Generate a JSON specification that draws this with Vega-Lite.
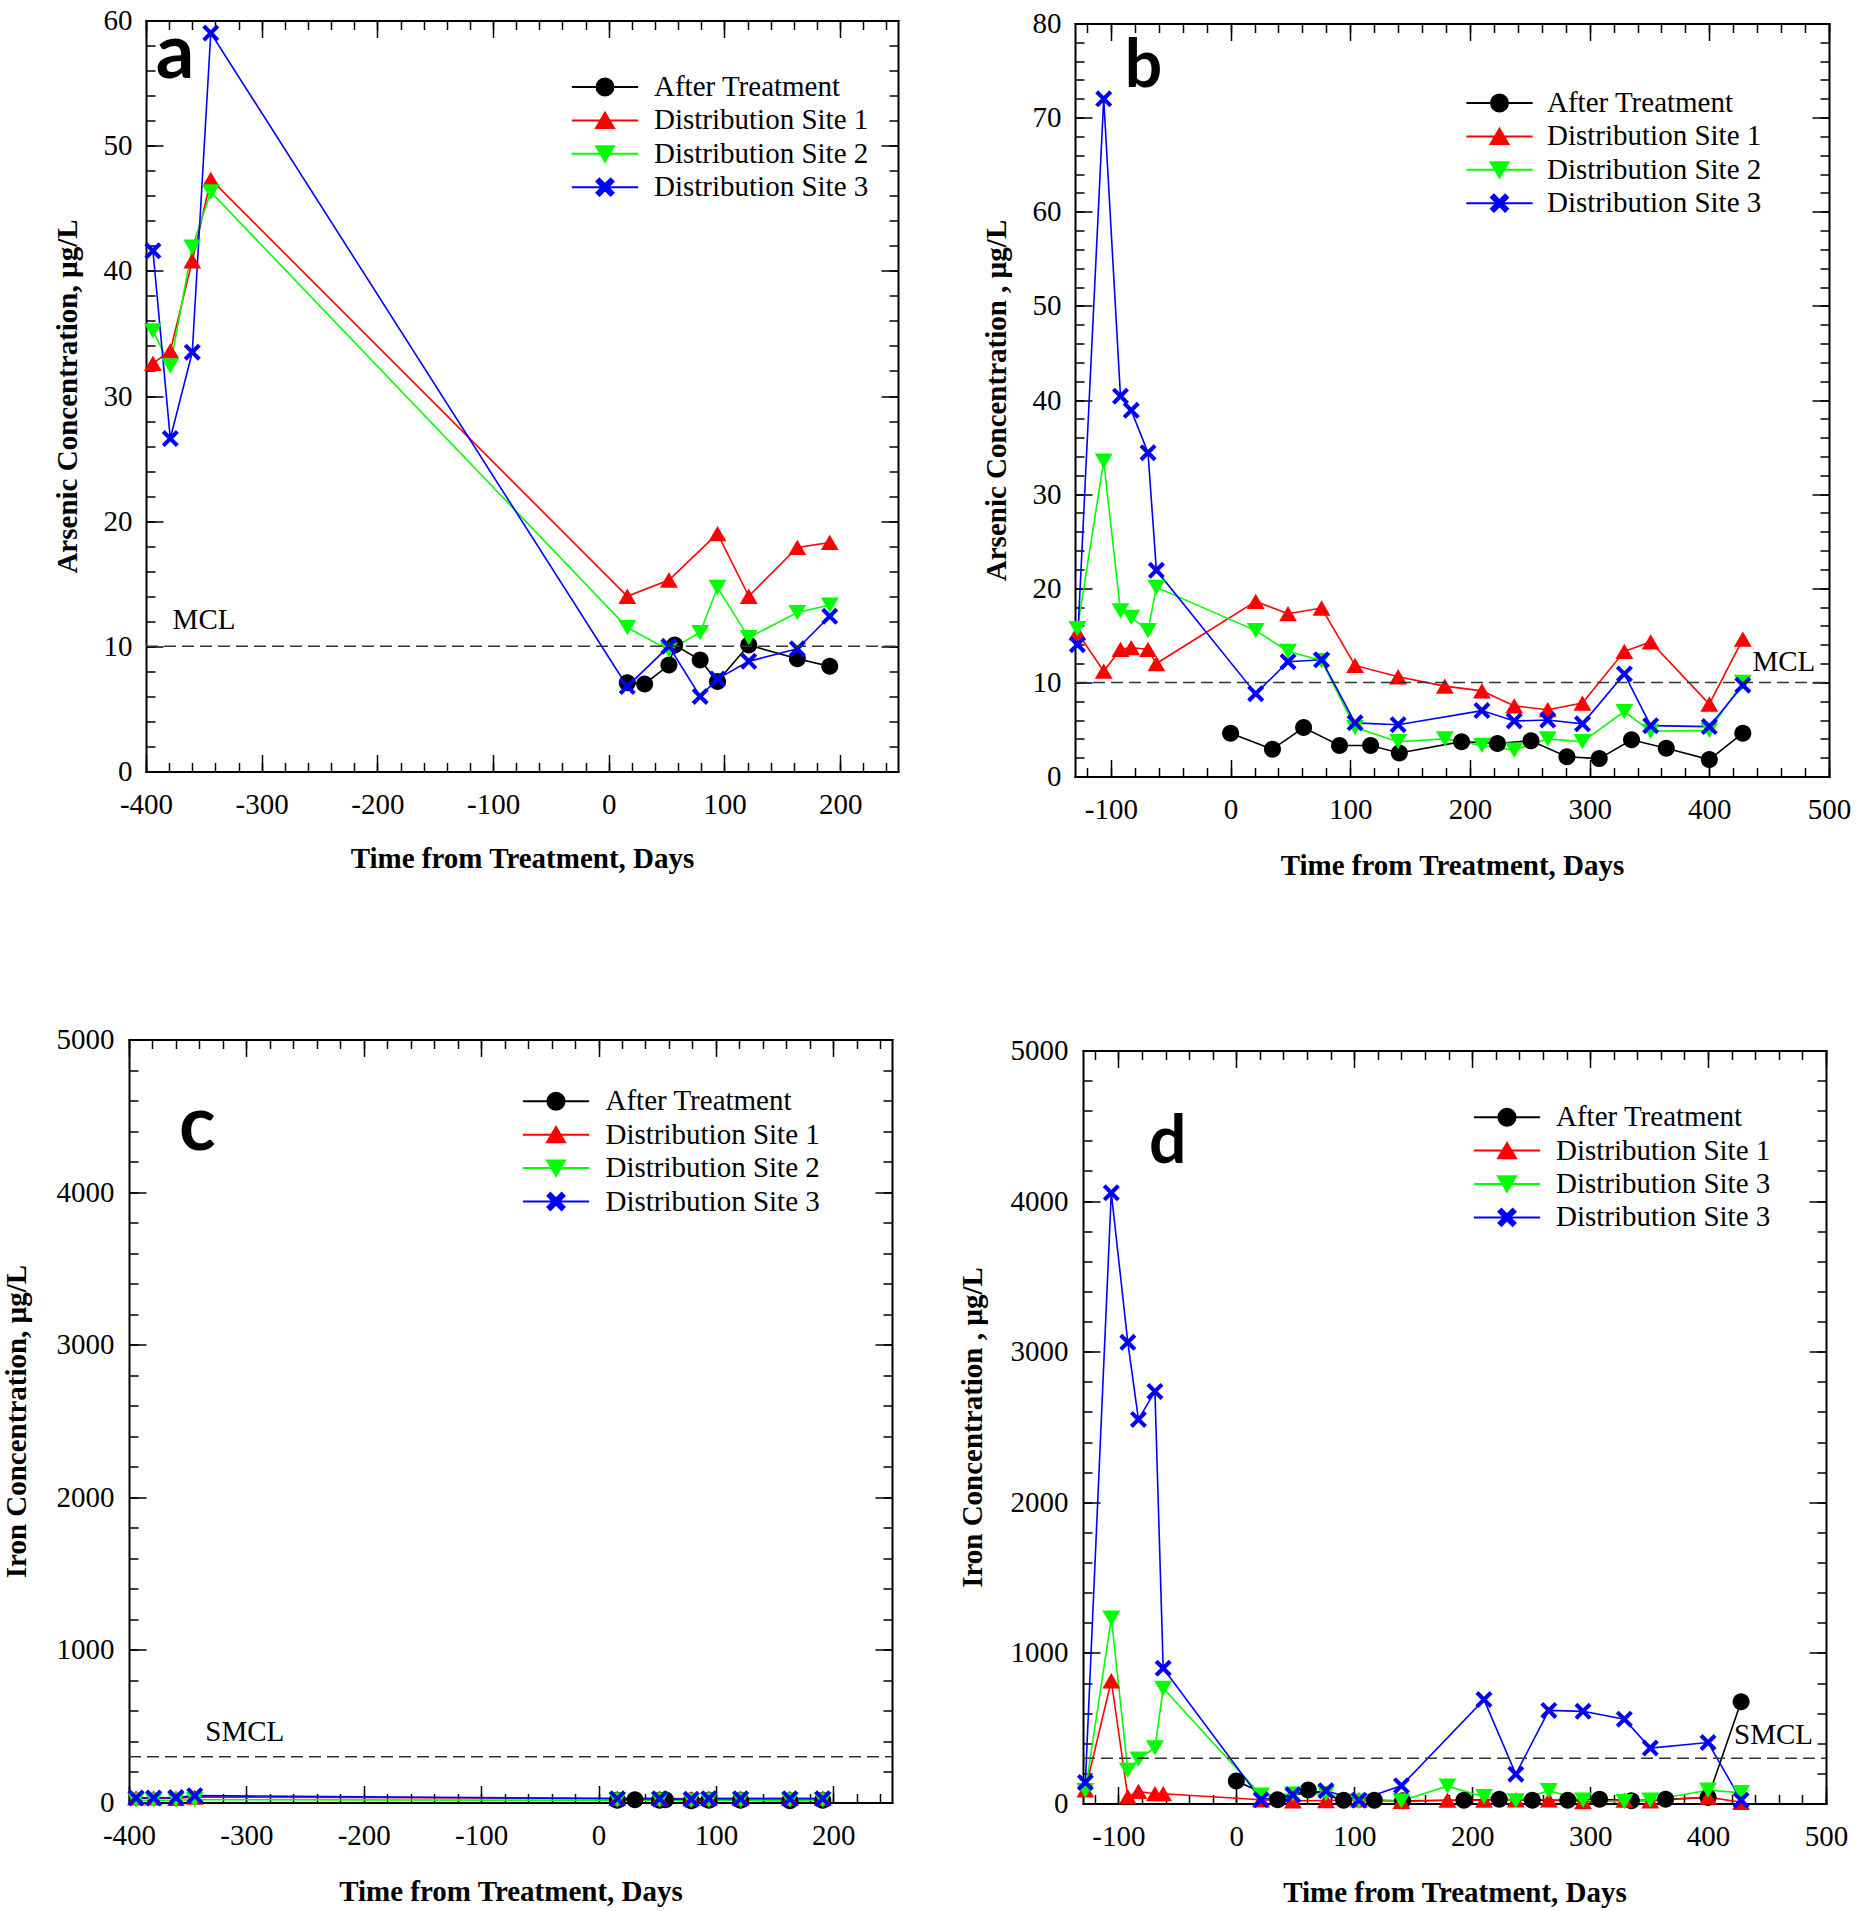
{
  "$schema": "https://vega.github.io/schema/vega-lite/v6.json",
  "background": "white",
  "padding": {"left": 2, "top": 6.5, "right": 0, "bottom": 0},
  "config": {
    "view": {"stroke": null},
    "axis": {"labelFont": "Liberation Serif", "labelFontSize": 29, "labelColor": "black", "titleFont": "Liberation Serif", "titleFontSize": 29, "titleFontWeight": "bold", "titleColor": "black", "tickColor": "black", "tickWidth": 1.5, "domainColor": "black", "domainWidth": 2, "grid": false, "labelFlush": false, "labelOverlap": false},
    "legend": {"orient": "none", "title": null, "padding": 0, "labelFont": "Liberation Serif", "labelFontSize": 29, "labelColor": "black", "labelLimit": 500, "symbolSize": 289, "symbolStrokeWidth": 2, "symbolOffset": 0, "symbolOpacity": 1}
  },
  "datasets": {
    "a": [
      {"series":"After Treatment","day":16,"value":7.1},{"series":"After Treatment","day":31,"value":7.0},{"series":"After Treatment","day":52,"value":8.5},{"series":"After Treatment","day":57,"value":10.1},{"series":"After Treatment","day":79,"value":8.9},{"series":"After Treatment","day":94,"value":7.2},{"series":"After Treatment","day":121,"value":10.1},{"series":"After Treatment","day":163,"value":9.0},{"series":"After Treatment","day":191,"value":8.4},
      {"series":"Distribution Site 1","day":-394,"value":32.6},{"series":"Distribution Site 1","day":-379,"value":33.6},{"series":"Distribution Site 1","day":-360,"value":40.8},{"series":"Distribution Site 1","day":-344,"value":47.3},{"series":"Distribution Site 1","day":16,"value":14.0},{"series":"Distribution Site 1","day":52,"value":15.3},{"series":"Distribution Site 1","day":94,"value":19.0},{"series":"Distribution Site 1","day":121,"value":14.0},{"series":"Distribution Site 1","day":163,"value":17.9},{"series":"Distribution Site 1","day":191,"value":18.3},
      {"series":"Distribution Site 2","day":-394,"value":35.2},{"series":"Distribution Site 2","day":-379,"value":32.4},{"series":"Distribution Site 2","day":-360,"value":41.9},{"series":"Distribution Site 2","day":-344,"value":46.3},{"series":"Distribution Site 2","day":16,"value":11.5},{"series":"Distribution Site 2","day":52,"value":9.7},{"series":"Distribution Site 2","day":79,"value":11.1},{"series":"Distribution Site 2","day":94,"value":14.7},{"series":"Distribution Site 2","day":121,"value":10.7},{"series":"Distribution Site 2","day":163,"value":12.7},{"series":"Distribution Site 2","day":191,"value":13.3},
      {"series":"Distribution Site 3","day":-394,"value":41.6},{"series":"Distribution Site 3","day":-379,"value":26.6},{"series":"Distribution Site 3","day":-360,"value":33.5},{"series":"Distribution Site 3","day":-344,"value":59.0},{"series":"Distribution Site 3","day":16,"value":6.8},{"series":"Distribution Site 3","day":52,"value":10.0},{"series":"Distribution Site 3","day":79,"value":6.0},{"series":"Distribution Site 3","day":94,"value":7.4},{"series":"Distribution Site 3","day":121,"value":8.8},{"series":"Distribution Site 3","day":163,"value":9.8},{"series":"Distribution Site 3","day":191,"value":12.4}
    ],
    "b": [
      {"series":"After Treatment","day":0,"value":4.6},{"series":"After Treatment","day":35,"value":2.9},{"series":"After Treatment","day":61,"value":5.2},{"series":"After Treatment","day":91,"value":3.3},{"series":"After Treatment","day":117,"value":3.3},{"series":"After Treatment","day":141,"value":2.5},{"series":"After Treatment","day":193,"value":3.7},{"series":"After Treatment","day":223,"value":3.5},{"series":"After Treatment","day":251,"value":3.8},{"series":"After Treatment","day":281,"value":2.1},{"series":"After Treatment","day":308,"value":1.9},{"series":"After Treatment","day":335,"value":3.9},{"series":"After Treatment","day":364,"value":3.0},{"series":"After Treatment","day":400,"value":1.8},{"series":"After Treatment","day":428,"value":4.6},
      {"series":"Distribution Site 1","day":-128,"value":15.3},{"series":"Distribution Site 1","day":-106,"value":11.2},{"series":"Distribution Site 1","day":-92,"value":13.5},{"series":"Distribution Site 1","day":-83,"value":13.7},{"series":"Distribution Site 1","day":-69,"value":13.5},{"series":"Distribution Site 1","day":-62,"value":12.0},{"series":"Distribution Site 1","day":21,"value":18.6},{"series":"Distribution Site 1","day":48,"value":17.3},{"series":"Distribution Site 1","day":76,"value":17.9},{"series":"Distribution Site 1","day":104,"value":11.8},{"series":"Distribution Site 1","day":140,"value":10.6},{"series":"Distribution Site 1","day":179,"value":9.6},{"series":"Distribution Site 1","day":210,"value":9.1},{"series":"Distribution Site 1","day":237,"value":7.5},{"series":"Distribution Site 1","day":265,"value":7.1},{"series":"Distribution Site 1","day":294,"value":7.8},{"series":"Distribution Site 1","day":329,"value":13.3},{"series":"Distribution Site 1","day":351,"value":14.3},{"series":"Distribution Site 1","day":400,"value":7.7},{"series":"Distribution Site 1","day":428,"value":14.6},
      {"series":"Distribution Site 2","day":-128,"value":15.7},{"series":"Distribution Site 2","day":-106,"value":33.5},{"series":"Distribution Site 2","day":-92,"value":17.6},{"series":"Distribution Site 2","day":-83,"value":16.9},{"series":"Distribution Site 2","day":-69,"value":15.5},{"series":"Distribution Site 2","day":-62,"value":20.1},{"series":"Distribution Site 2","day":21,"value":15.5},{"series":"Distribution Site 2","day":48,"value":13.3},{"series":"Distribution Site 2","day":76,"value":12.3},{"series":"Distribution Site 2","day":104,"value":5.2},{"series":"Distribution Site 2","day":140,"value":3.7},{"series":"Distribution Site 2","day":179,"value":4.0},{"series":"Distribution Site 2","day":210,"value":3.3},{"series":"Distribution Site 2","day":237,"value":2.8},{"series":"Distribution Site 2","day":265,"value":4.0},{"series":"Distribution Site 2","day":294,"value":3.7},{"series":"Distribution Site 2","day":329,"value":6.9},{"series":"Distribution Site 2","day":351,"value":4.8},{"series":"Distribution Site 2","day":400,"value":4.9},{"series":"Distribution Site 2","day":428,"value":10.0},
      {"series":"Distribution Site 3","day":-128,"value":14.0},{"series":"Distribution Site 3","day":-106,"value":72.0},{"series":"Distribution Site 3","day":-92,"value":40.4},{"series":"Distribution Site 3","day":-83,"value":38.9},{"series":"Distribution Site 3","day":-69,"value":34.4},{"series":"Distribution Site 3","day":-62,"value":21.9},{"series":"Distribution Site 3","day":21,"value":8.8},{"series":"Distribution Site 3","day":48,"value":12.2},{"series":"Distribution Site 3","day":76,"value":12.4},{"series":"Distribution Site 3","day":104,"value":5.7},{"series":"Distribution Site 3","day":140,"value":5.5},{"series":"Distribution Site 3","day":210,"value":7.0},{"series":"Distribution Site 3","day":237,"value":5.9},{"series":"Distribution Site 3","day":265,"value":6.0},{"series":"Distribution Site 3","day":294,"value":5.6},{"series":"Distribution Site 3","day":329,"value":10.9},{"series":"Distribution Site 3","day":351,"value":5.4},{"series":"Distribution Site 3","day":400,"value":5.3},{"series":"Distribution Site 3","day":428,"value":9.7}
    ],
    "c": [
      {"series":"After Treatment","day":16,"value":15},{"series":"After Treatment","day":31,"value":18},{"series":"After Treatment","day":52,"value":15},{"series":"After Treatment","day":57,"value":18},{"series":"After Treatment","day":79,"value":12},{"series":"After Treatment","day":94,"value":15},{"series":"After Treatment","day":121,"value":15},{"series":"After Treatment","day":163,"value":12},{"series":"After Treatment","day":191,"value":15},
      {"series":"Distribution Site 1","day":-394,"value":30},{"series":"Distribution Site 1","day":-379,"value":30},{"series":"Distribution Site 1","day":-360,"value":28},{"series":"Distribution Site 1","day":-344,"value":35},{"series":"Distribution Site 1","day":16,"value":28},{"series":"Distribution Site 1","day":52,"value":28},{"series":"Distribution Site 1","day":79,"value":25},{"series":"Distribution Site 1","day":94,"value":28},{"series":"Distribution Site 1","day":121,"value":28},{"series":"Distribution Site 1","day":163,"value":28},{"series":"Distribution Site 1","day":191,"value":28},
      {"series":"Distribution Site 2","day":-394,"value":15},{"series":"Distribution Site 2","day":-379,"value":15},{"series":"Distribution Site 2","day":-360,"value":15},{"series":"Distribution Site 2","day":-344,"value":18},{"series":"Distribution Site 2","day":16,"value":15},{"series":"Distribution Site 2","day":52,"value":15},{"series":"Distribution Site 2","day":79,"value":12},{"series":"Distribution Site 2","day":94,"value":15},{"series":"Distribution Site 2","day":121,"value":15},{"series":"Distribution Site 2","day":163,"value":15},{"series":"Distribution Site 2","day":191,"value":15},
      {"series":"Distribution Site 3","day":-394,"value":30},{"series":"Distribution Site 3","day":-379,"value":30},{"series":"Distribution Site 3","day":-360,"value":32},{"series":"Distribution Site 3","day":-344,"value":45},{"series":"Distribution Site 3","day":16,"value":25},{"series":"Distribution Site 3","day":52,"value":25},{"series":"Distribution Site 3","day":79,"value":22},{"series":"Distribution Site 3","day":94,"value":25},{"series":"Distribution Site 3","day":121,"value":25},{"series":"Distribution Site 3","day":163,"value":25},{"series":"Distribution Site 3","day":191,"value":25}
    ],
    "d": [
      {"series":"After Treatment","day":0,"value":150},{"series":"After Treatment","day":35,"value":25},{"series":"After Treatment","day":61,"value":90},{"series":"After Treatment","day":91,"value":22},{"series":"After Treatment","day":117,"value":22},{"series":"After Treatment","day":141,"value":18},{"series":"After Treatment","day":193,"value":22},{"series":"After Treatment","day":223,"value":28},{"series":"After Treatment","day":251,"value":22},{"series":"After Treatment","day":281,"value":22},{"series":"After Treatment","day":308,"value":28},{"series":"After Treatment","day":335,"value":18},{"series":"After Treatment","day":364,"value":28},{"series":"After Treatment","day":400,"value":40},{"series":"After Treatment","day":428,"value":675},
      {"series":"Distribution Site 1","day":-128,"value":90},{"series":"Distribution Site 1","day":-106,"value":815},{"series":"Distribution Site 1","day":-92,"value":45},{"series":"Distribution Site 1","day":-83,"value":80},{"series":"Distribution Site 1","day":-69,"value":65},{"series":"Distribution Site 1","day":-62,"value":65},{"series":"Distribution Site 1","day":21,"value":25},{"series":"Distribution Site 1","day":48,"value":18},{"series":"Distribution Site 1","day":76,"value":20},{"series":"Distribution Site 1","day":104,"value":25},{"series":"Distribution Site 1","day":140,"value":15},{"series":"Distribution Site 1","day":179,"value":22},{"series":"Distribution Site 1","day":210,"value":22},{"series":"Distribution Site 1","day":237,"value":25},{"series":"Distribution Site 1","day":265,"value":25},{"series":"Distribution Site 1","day":294,"value":12},{"series":"Distribution Site 1","day":329,"value":22},{"series":"Distribution Site 1","day":351,"value":18},{"series":"Distribution Site 1","day":400,"value":42},{"series":"Distribution Site 1","day":428,"value":8},
      {"series":"Distribution Site 2","day":-128,"value":85},{"series":"Distribution Site 2","day":-106,"value":1230},{"series":"Distribution Site 2","day":-92,"value":220},{"series":"Distribution Site 2","day":-83,"value":295},{"series":"Distribution Site 2","day":-69,"value":370},{"series":"Distribution Site 2","day":-62,"value":765},{"series":"Distribution Site 2","day":21,"value":55},{"series":"Distribution Site 2","day":48,"value":62},{"series":"Distribution Site 2","day":76,"value":65},{"series":"Distribution Site 2","day":104,"value":15},{"series":"Distribution Site 2","day":140,"value":18},{"series":"Distribution Site 2","day":179,"value":115},{"series":"Distribution Site 2","day":210,"value":45},{"series":"Distribution Site 2","day":237,"value":18},{"series":"Distribution Site 2","day":265,"value":85},{"series":"Distribution Site 2","day":294,"value":22},{"series":"Distribution Site 2","day":329,"value":12},{"series":"Distribution Site 2","day":351,"value":22},{"series":"Distribution Site 2","day":400,"value":88},{"series":"Distribution Site 2","day":428,"value":72},
      {"series":"Distribution Site 3","day":-128,"value":140},{"series":"Distribution Site 3","day":-106,"value":4055},{"series":"Distribution Site 3","day":-92,"value":3062},{"series":"Distribution Site 3","day":-83,"value":2550},{"series":"Distribution Site 3","day":-69,"value":2736},{"series":"Distribution Site 3","day":-62,"value":898},{"series":"Distribution Site 3","day":21,"value":25},{"series":"Distribution Site 3","day":48,"value":58},{"series":"Distribution Site 3","day":76,"value":85},{"series":"Distribution Site 3","day":104,"value":22},{"series":"Distribution Site 3","day":140,"value":118},{"series":"Distribution Site 3","day":210,"value":690},{"series":"Distribution Site 3","day":237,"value":195},{"series":"Distribution Site 3","day":265,"value":618},{"series":"Distribution Site 3","day":294,"value":612},{"series":"Distribution Site 3","day":329,"value":560},{"series":"Distribution Site 3","day":351,"value":368},{"series":"Distribution Site 3","day":400,"value":405},{"series":"Distribution Site 3","day":428,"value":22}
    ]
  },
  "columns": 2,
  "bounds": "flush",
  "spacing": {"row": 263, "column": 177},
  "resolve": {"scale": {"color": "independent", "shape": "independent", "fill": "independent", "stroke": "independent"}},
  "concat": [
    {
      "width": 769, "height": 756,
      "resolve": {"axis": {"x": "independent", "y": "independent"}, "scale": {"shape": "independent", "fill": "independent", "stroke": "independent"}},
      "layer": [
        {
          "data": {"name": "a"},
          "mark": {"type": "line", "strokeWidth": 1.6},
          "encoding": {
            "x": {"field": "day", "type": "quantitative", "scale": {"domain": [-400, 250], "range": [17, 769], "nice": false, "zero": false},
              "axis": {"orient": "bottom", "offset": -5, "values": [-400,-300,-200,-100,0,100,200], "labelExpr": "datum.value + ''", "labelPadding": 19, "ticks": false, "tickSize": 0, "domain": true, "domainCap": "square", "title": "Time from Treatment, Days", "titleY": 87, "titleBaseline": "middle"}},
            "y": {"field": "value", "type": "quantitative", "scale": {"domain": [0, 60], "range": [751, 0], "nice": false, "zero": false},
              "axis": {"orient": "left", "offset": -17, "values": [0,10,20,30,40,50,60], "labelExpr": "datum.value + ''", "labelPadding": 14, "ticks": false, "tickSize": 0, "domain": true, "domainCap": "square", "title": "Arsenic Concentration, µg/L", "titleX": -79, "titleBaseline": "middle"}},
            "color": {"field": "series", "type": "nominal", "scale": {"domain": ["After Treatment","Distribution Site 1","Distribution Site 2","Distribution Site 3"], "range": ["#000000","#ff0000","#00ff00","#0000ff"]}, "legend": null}
          }
        },
        {
          "data": {"name": "a"},
          "mark": {"type": "point", "filled": true, "size": 289, "opacity": 1, "strokeWidth": 0},
          "encoding": {
            "x": {"field": "day", "type": "quantitative", "scale": {"domain": [-400, 250], "range": [17, 769], "nice": false, "zero": false},
              "axis": {"orient": "bottom", "offset": -5, "values": [-400,-300,-200,-100,0,100,200], "labels": false, "domain": false, "tickSize": -17, "title": null}},
            "y": {"field": "value", "type": "quantitative", "scale": {"domain": [0, 60], "range": [751, 0], "nice": false, "zero": false},
              "axis": {"orient": "left", "offset": -17, "values": [0,10,20,30,40,50,60], "labels": false, "domain": false, "tickSize": -17, "title": null}},
            "color": {"field": "series", "type": "nominal", "scale": {"domain": ["After Treatment","Distribution Site 1","Distribution Site 2","Distribution Site 3"], "range": ["#000000","#ff0000","#00ff00","#0000ff"]}, "legend": null},
            "shape": {"field": "series", "type": "nominal", "scale": {"domain": ["After Treatment","Distribution Site 1","Distribution Site 2","Distribution Site 3"], "range": ["M1,0A1,1,0,1,1,-1,0A1,1,0,1,1,1,0Z","M0,-0.9L1.05,0.9L-1.05,0.9Z","M0,0.9L1.05,-0.9L-1.05,-0.9Z","M-1,-0.66L0.66,1L1,0.66L-0.66,-1ZM-0.66,1L1,-0.66L0.66,-1L-1,0.66Z"]}, "legend": null}
          }
        },
        {
          "data": {"values": [{"t": "MCL"}]},
          "mark": {"type": "rule", "strokeDash": [12, 6], "color": "#333333", "strokeWidth": 1.5},
          "encoding": {
            "x": {"datum": -400, "type": "quantitative", "scale": {"domain": [-400, 250], "range": [17, 769], "nice": false, "zero": false},
              "axis": {"orient": "bottom", "offset": -5, "values": [-400,-380,-360,-340,-320,-300,-280,-260,-240,-220,-200,-180,-160,-140,-120,-100,-80,-60,-40,-20,0,20,40,60,80,100,120,140,160,180,200,220,240], "labels": false, "domain": false, "tickSize": -9, "title": null}},
            "x2": {"datum": 250},
            "y": {"datum": 10, "type": "quantitative", "scale": {"domain": [0, 60], "range": [751, 0], "nice": false, "zero": false},
              "axis": {"orient": "left", "offset": -17, "values": [0,2,4,6,8,10,12,14,16,18,20,22,24,26,28,30,32,34,36,38,40,42,44,46,48,50,52,54,56,58,60], "labels": false, "domain": false, "tickSize": -9, "title": null}}
          }
        },
        {
          "data": {"values": [{"t": "MCL"}]},
          "mark": {"type": "text", "font": "Liberation Serif", "fontSize": 29, "align": "left", "baseline": "alphabetic", "color": "black"},
          "encoding": {
            "x": {"datum": -377, "type": "quantitative", "scale": {"domain": [-400, 250], "range": [17, 769], "nice": false, "zero": false},
              "axis": {"orient": "top", "offset": 0, "values": [-400,-300,-200,-100,0,100,200], "labels": false, "domain": true, "domainCap": "square", "tickSize": -17, "title": null}},
            "y": {"datum": 11.4, "type": "quantitative", "scale": {"domain": [0, 60], "range": [751, 0], "nice": false, "zero": false},
              "axis": {"orient": "right", "offset": 0, "values": [0,10,20,30,40,50,60], "labels": false, "domain": true, "domainCap": "square", "tickSize": -17, "title": null}},
            "text": {"field": "t"}
          }
        },
        {
          "data": {"values": [{"t": "a"}]},
          "mark": {"type": "text", "font": "Lato", "fontWeight": "bold", "fontSize": 76, "align": "left", "baseline": "alphabetic", "color": "black"},
          "encoding": {
            "x": {"datum": -391.5, "type": "quantitative", "scale": {"domain": [-400, 250], "range": [17, 769], "nice": false, "zero": false},
              "axis": {"orient": "top", "offset": 0, "values": [-400,-380,-360,-340,-320,-300,-280,-260,-240,-220,-200,-180,-160,-140,-120,-100,-80,-60,-40,-20,0,20,40,60,80,100,120,140,160,180,200,220,240], "labels": false, "domain": false, "tickSize": -9, "title": null}},
            "y": {"datum": 55.4, "type": "quantitative", "scale": {"domain": [0, 60], "range": [751, 0], "nice": false, "zero": false},
              "axis": {"orient": "right", "offset": 0, "values": [0,2,4,6,8,10,12,14,16,18,20,22,24,26,28,30,32,34,36,38,40,42,44,46,48,50,52,54,56,58,60], "labels": false, "domain": false, "tickSize": -9, "title": null}},
            "text": {"field": "t"}
          }
        },
        {
          "data": {"name": "a"},
          "mark": {"type": "point", "filled": true, "size": 0, "opacity": 1},
          "encoding": {
            "x": {"field": "day", "type": "quantitative", "scale": {"domain": [-400, 250], "range": [17, 769], "nice": false, "zero": false}, "axis": null},
            "y": {"field": "value", "type": "quantitative", "scale": {"domain": [0, 60], "range": [751, 0], "nice": false, "zero": false}, "axis": null},
            "fill": {"field": "series", "type": "nominal", "scale": {"domain": ["After Treatment","Distribution Site 1","Distribution Site 2","Distribution Site 3"], "range": ["#000000","#ff0000","#00ff00","#0000ff"]},
              "legend": {"legendX": 461.5, "legendY": 52, "labelOffset": 34.5, "rowPadding": 3.4}},
            "stroke": {"field": "series", "type": "nominal", "scale": {"domain": ["After Treatment","Distribution Site 1","Distribution Site 2","Distribution Site 3"], "range": ["#000000","#ff0000","#00ff00","#0000ff"]},
              "legend": {"legendX": 461.5, "legendY": 52, "labelOffset": 34.5, "rowPadding": 3.4}},
            "shape": {"field": "series", "type": "nominal", "scale": {"domain": ["After Treatment","Distribution Site 1","Distribution Site 2","Distribution Site 3"], "range": ["M-3.9,0H3.9M1,0A1,1,0,1,1,-1,0A1,1,0,1,1,1,0Z","M-3.9,0H3.9M0,-0.9L1.05,0.9L-1.05,0.9Z","M-3.9,0H3.9M0,0.9L1.05,-0.9L-1.05,-0.9Z","M-3.9,0H3.9M-1,-0.66L0.66,1L1,0.66L-0.66,-1ZM-0.66,1L1,-0.66L0.66,-1L-1,0.66Z"]},
              "legend": {"legendX": 461.5, "legendY": 52, "labelOffset": 34.5, "rowPadding": 3.4}}
          }
        }
      ]
    },
    {
      "width": 754, "height": 756,
      "resolve": {"axis": {"x": "independent", "y": "independent"}, "scale": {"shape": "independent", "fill": "independent", "stroke": "independent"}},
      "layer": [
        {
          "data": {"name": "b"},
          "mark": {"type": "line", "strokeWidth": 1.6},
          "encoding": {
            "x": {"field": "day", "type": "quantitative", "scale": {"domain": [-130, 500], "range": [0, 754], "nice": false, "zero": false},
              "axis": {"orient": "bottom", "offset": 0, "values": [-100,0,100,200,300,400,500], "labelExpr": "datum.value + ''", "labelPadding": 19, "ticks": false, "tickSize": 0, "domain": true, "domainCap": "square", "title": "Time from Treatment, Days", "titleY": 88.5, "titleBaseline": "middle"}},
            "y": {"field": "value", "type": "quantitative", "scale": {"domain": [0, 80], "range": [756, 3], "nice": false, "zero": false},
              "axis": {"orient": "left", "offset": 0, "values": [0,10,20,30,40,50,60,70,80], "labelExpr": "datum.value + ''", "labelPadding": 14, "ticks": false, "tickSize": 0, "domain": true, "domainCap": "square", "title": "Arsenic Concentration , µg/L", "titleX": -79, "titleBaseline": "middle"}},
            "color": {"field": "series", "type": "nominal", "scale": {"domain": ["After Treatment","Distribution Site 1","Distribution Site 2","Distribution Site 3"], "range": ["#000000","#ff0000","#00ff00","#0000ff"]}, "legend": null}
          }
        },
        {
          "data": {"name": "b"},
          "mark": {"type": "point", "filled": true, "size": 289, "opacity": 1, "strokeWidth": 0},
          "encoding": {
            "x": {"field": "day", "type": "quantitative", "scale": {"domain": [-130, 500], "range": [0, 754], "nice": false, "zero": false},
              "axis": {"orient": "bottom", "offset": 0, "values": [-100,0,100,200,300,400,500], "labels": false, "domain": false, "tickSize": -17, "title": null}},
            "y": {"field": "value", "type": "quantitative", "scale": {"domain": [0, 80], "range": [756, 3], "nice": false, "zero": false},
              "axis": {"orient": "left", "offset": 0, "values": [0,10,20,30,40,50,60,70,80], "labels": false, "domain": false, "tickSize": -17, "title": null}},
            "color": {"field": "series", "type": "nominal", "scale": {"domain": ["After Treatment","Distribution Site 1","Distribution Site 2","Distribution Site 3"], "range": ["#000000","#ff0000","#00ff00","#0000ff"]}, "legend": null},
            "shape": {"field": "series", "type": "nominal", "scale": {"domain": ["After Treatment","Distribution Site 1","Distribution Site 2","Distribution Site 3"], "range": ["M1,0A1,1,0,1,1,-1,0A1,1,0,1,1,1,0Z","M0,-0.9L1.05,0.9L-1.05,0.9Z","M0,0.9L1.05,-0.9L-1.05,-0.9Z","M-1,-0.66L0.66,1L1,0.66L-0.66,-1ZM-0.66,1L1,-0.66L0.66,-1L-1,0.66Z"]}, "legend": null}
          }
        },
        {
          "data": {"values": [{"t": "MCL"}]},
          "mark": {"type": "rule", "strokeDash": [12, 6], "color": "#333333", "strokeWidth": 1.5},
          "encoding": {
            "x": {"datum": -130, "type": "quantitative", "scale": {"domain": [-130, 500], "range": [0, 754], "nice": false, "zero": false},
              "axis": {"orient": "bottom", "offset": 0, "values": [-120,-100,-80,-60,-40,-20,0,20,40,60,80,100,120,140,160,180,200,220,240,260,280,300,320,340,360,380,400,420,440,460,480,500], "labels": false, "domain": false, "tickSize": -9, "title": null}},
            "x2": {"datum": 500},
            "y": {"datum": 10, "type": "quantitative", "scale": {"domain": [0, 80], "range": [756, 3], "nice": false, "zero": false},
              "axis": {"orient": "left", "offset": 0, "values": [0,2,4,6,8,10,12,14,16,18,20,22,24,26,28,30,32,34,36,38,40,42,44,46,48,50,52,54,56,58,60,62,64,66,68,70,72,74,76,78,80], "labels": false, "domain": false, "tickSize": -9, "title": null}}
          }
        },
        {
          "data": {"values": [{"t": "MCL"}]},
          "mark": {"type": "text", "font": "Liberation Serif", "fontSize": 29, "align": "left", "baseline": "alphabetic", "color": "black"},
          "encoding": {
            "x": {"datum": 436, "type": "quantitative", "scale": {"domain": [-130, 500], "range": [0, 754], "nice": false, "zero": false},
              "axis": {"orient": "top", "offset": -3, "values": [-100,0,100,200,300,400,500], "labels": false, "domain": true, "domainCap": "square", "tickSize": -17, "title": null}},
            "y": {"datum": 11.2, "type": "quantitative", "scale": {"domain": [0, 80], "range": [756, 3], "nice": false, "zero": false},
              "axis": {"orient": "right", "offset": 0, "values": [0,10,20,30,40,50,60,70,80], "labels": false, "domain": true, "domainCap": "square", "tickSize": -17, "title": null}},
            "text": {"field": "t"}
          }
        },
        {
          "data": {"values": [{"t": "b"}]},
          "mark": {"type": "text", "font": "Lato", "fontWeight": "bold", "fontSize": 66, "align": "left", "baseline": "alphabetic", "color": "black"},
          "encoding": {
            "x": {"datum": -88.5, "type": "quantitative", "scale": {"domain": [-130, 500], "range": [0, 754], "nice": false, "zero": false},
              "axis": {"orient": "top", "offset": -3, "values": [-120,-100,-80,-60,-40,-20,0,20,40,60,80,100,120,140,160,180,200,220,240,260,280,300,320,340,360,380,400,420,440,460,480,500], "labels": false, "domain": false, "tickSize": -9, "title": null}},
            "y": {"datum": 73.3, "type": "quantitative", "scale": {"domain": [0, 80], "range": [756, 3], "nice": false, "zero": false},
              "axis": {"orient": "right", "offset": 0, "values": [0,2,4,6,8,10,12,14,16,18,20,22,24,26,28,30,32,34,36,38,40,42,44,46,48,50,52,54,56,58,60,62,64,66,68,70,72,74,76,78,80], "labels": false, "domain": false, "tickSize": -9, "title": null}},
            "text": {"field": "t"}
          }
        },
        {
          "data": {"name": "b"},
          "mark": {"type": "point", "filled": true, "size": 0, "opacity": 1},
          "encoding": {
            "x": {"field": "day", "type": "quantitative", "scale": {"domain": [-130, 500], "range": [0, 754], "nice": false, "zero": false}, "axis": null},
            "y": {"field": "value", "type": "quantitative", "scale": {"domain": [0, 80], "range": [756, 3], "nice": false, "zero": false}, "axis": null},
            "fill": {"field": "series", "type": "nominal", "scale": {"domain": ["After Treatment","Distribution Site 1","Distribution Site 2","Distribution Site 3"], "range": ["#000000","#ff0000","#00ff00","#0000ff"]},
              "legend": {"legendX": 410, "legendY": 68, "labelOffset": 33, "rowPadding": 3.4}},
            "stroke": {"field": "series", "type": "nominal", "scale": {"domain": ["After Treatment","Distribution Site 1","Distribution Site 2","Distribution Site 3"], "range": ["#000000","#ff0000","#00ff00","#0000ff"]},
              "legend": {"legendX": 410, "legendY": 68, "labelOffset": 33, "rowPadding": 3.4}},
            "shape": {"field": "series", "type": "nominal", "scale": {"domain": ["After Treatment","Distribution Site 1","Distribution Site 2","Distribution Site 3"], "range": ["M-3.9,0H3.9M1,0A1,1,0,1,1,-1,0A1,1,0,1,1,1,0Z","M-3.9,0H3.9M0,-0.9L1.05,0.9L-1.05,0.9Z","M-3.9,0H3.9M0,0.9L1.05,-0.9L-1.05,-0.9Z","M-3.9,0H3.9M-1,-0.66L0.66,1L1,0.66L-0.66,-1ZM-0.66,1L1,-0.66L0.66,-1L-1,0.66Z"]},
              "legend": {"legendX": 410, "legendY": 68, "labelOffset": 33, "rowPadding": 3.4}}
          }
        }
      ]
    },
    {
      "width": 769, "height": 764,
      "resolve": {"axis": {"x": "independent", "y": "independent"}, "scale": {"shape": "independent", "fill": "independent", "stroke": "independent"}},
      "layer": [
        {
          "data": {"name": "c"},
          "mark": {"type": "line", "strokeWidth": 1.6},
          "encoding": {
            "x": {"field": "day", "type": "quantitative", "scale": {"domain": [-400, 250], "range": [0, 763], "nice": false, "zero": false},
              "axis": {"orient": "bottom", "offset": -1, "values": [-400,-300,-200,-100,0,100,200], "labelExpr": "datum.value + ''", "labelPadding": 19, "ticks": false, "tickSize": 0, "domain": true, "domainCap": "square", "title": "Time from Treatment, Days", "titleY": 89, "titleBaseline": "middle"}},
            "y": {"field": "value", "type": "quantitative", "scale": {"domain": [0, 5000], "range": [763, 0], "nice": false, "zero": false},
              "axis": {"orient": "left", "offset": 0, "values": [0,1000,2000,3000,4000,5000], "labelExpr": "datum.value + ''", "labelPadding": 15, "ticks": false, "tickSize": 0, "domain": true, "domainCap": "square", "title": "Iron Concentration, µg/L", "titleX": -113, "titleBaseline": "middle"}},
            "color": {"field": "series", "type": "nominal", "scale": {"domain": ["After Treatment","Distribution Site 1","Distribution Site 2","Distribution Site 3"], "range": ["#000000","#ff0000","#00ff00","#0000ff"]}, "legend": null}
          }
        },
        {
          "data": {"name": "c"},
          "mark": {"type": "point", "filled": true, "size": 289, "opacity": 1, "strokeWidth": 0},
          "encoding": {
            "x": {"field": "day", "type": "quantitative", "scale": {"domain": [-400, 250], "range": [0, 763], "nice": false, "zero": false},
              "axis": {"orient": "bottom", "offset": -1, "values": [-400,-300,-200,-100,0,100,200], "labels": false, "domain": false, "tickSize": -17, "title": null}},
            "y": {"field": "value", "type": "quantitative", "scale": {"domain": [0, 5000], "range": [763, 0], "nice": false, "zero": false},
              "axis": {"orient": "left", "offset": 0, "values": [0,1000,2000,3000,4000,5000], "labels": false, "domain": false, "tickSize": -17, "title": null}},
            "color": {"field": "series", "type": "nominal", "scale": {"domain": ["After Treatment","Distribution Site 1","Distribution Site 2","Distribution Site 3"], "range": ["#000000","#ff0000","#00ff00","#0000ff"]}, "legend": null},
            "shape": {"field": "series", "type": "nominal", "scale": {"domain": ["After Treatment","Distribution Site 1","Distribution Site 2","Distribution Site 3"], "range": ["M1,0A1,1,0,1,1,-1,0A1,1,0,1,1,1,0Z","M0,-0.9L1.05,0.9L-1.05,0.9Z","M0,0.9L1.05,-0.9L-1.05,-0.9Z","M-1,-0.66L0.66,1L1,0.66L-0.66,-1ZM-0.66,1L1,-0.66L0.66,-1L-1,0.66Z"]}, "legend": null}
          }
        },
        {
          "data": {"values": [{"t": "SMCL"}]},
          "mark": {"type": "rule", "strokeDash": [12, 6], "color": "#333333", "strokeWidth": 1.5},
          "encoding": {
            "x": {"datum": -400, "type": "quantitative", "scale": {"domain": [-400, 250], "range": [0, 763], "nice": false, "zero": false},
              "axis": {"orient": "bottom", "offset": -1, "values": [-400,-380,-360,-340,-320,-300,-280,-260,-240,-220,-200,-180,-160,-140,-120,-100,-80,-60,-40,-20,0,20,40,60,80,100,120,140,160,180,200,220,240], "labels": false, "domain": false, "tickSize": -9, "title": null}},
            "x2": {"datum": 250},
            "y": {"datum": 300, "type": "quantitative", "scale": {"domain": [0, 5000], "range": [763, 0], "nice": false, "zero": false},
              "axis": {"orient": "left", "offset": 0, "values": [0,200,400,600,800,1000,1200,1400,1600,1800,2000,2200,2400,2600,2800,3000,3200,3400,3600,3800,4000,4200,4400,4600,4800,5000], "labels": false, "domain": false, "tickSize": -9, "title": null}}
          }
        },
        {
          "data": {"values": [{"t": "SMCL"}]},
          "mark": {"type": "text", "font": "Liberation Serif", "fontSize": 29, "align": "left", "baseline": "alphabetic", "color": "black"},
          "encoding": {
            "x": {"datum": -335, "type": "quantitative", "scale": {"domain": [-400, 250], "range": [0, 763], "nice": false, "zero": false},
              "axis": {"orient": "top", "offset": 0, "values": [-400,-300,-200,-100,0,100,200], "labels": false, "domain": true, "domainCap": "square", "tickSize": -17, "title": null}},
            "y": {"datum": 405, "type": "quantitative", "scale": {"domain": [0, 5000], "range": [763, 0], "nice": false, "zero": false},
              "axis": {"orient": "right", "offset": -6, "values": [0,1000,2000,3000,4000,5000], "labels": false, "domain": true, "domainCap": "square", "tickSize": -17, "title": null}},
            "text": {"field": "t"}
          }
        },
        {
          "data": {"values": [{"t": "c"}]},
          "mark": {"type": "text", "font": "Lato", "fontWeight": "bold", "fontSize": 76, "align": "left", "baseline": "alphabetic", "color": "black"},
          "encoding": {
            "x": {"datum": -357.5, "type": "quantitative", "scale": {"domain": [-400, 250], "range": [0, 763], "nice": false, "zero": false},
              "axis": {"orient": "top", "offset": 0, "values": [-400,-380,-360,-340,-320,-300,-280,-260,-240,-220,-200,-180,-160,-140,-120,-100,-80,-60,-40,-20,0,20,40,60,80,100,120,140,160,180,200,220,240], "labels": false, "domain": false, "tickSize": -9, "title": null}},
            "y": {"datum": 4279, "type": "quantitative", "scale": {"domain": [0, 5000], "range": [763, 0], "nice": false, "zero": false},
              "axis": {"orient": "right", "offset": -6, "values": [0,200,400,600,800,1000,1200,1400,1600,1800,2000,2200,2400,2600,2800,3000,3200,3400,3600,3800,4000,4200,4400,4600,4800,5000], "labels": false, "domain": false, "tickSize": -9, "title": null}},
            "text": {"field": "t"}
          }
        },
        {
          "data": {"name": "c"},
          "mark": {"type": "point", "filled": true, "size": 0, "opacity": 1},
          "encoding": {
            "x": {"field": "day", "type": "quantitative", "scale": {"domain": [-400, 250], "range": [0, 763], "nice": false, "zero": false}, "axis": null},
            "y": {"field": "value", "type": "quantitative", "scale": {"domain": [0, 5000], "range": [763, 0], "nice": false, "zero": false}, "axis": null},
            "fill": {"field": "series", "type": "nominal", "scale": {"domain": ["After Treatment","Distribution Site 1","Distribution Site 2","Distribution Site 3"], "range": ["#000000","#ff0000","#00ff00","#0000ff"]},
              "legend": {"legendX": 412.5, "legendY": 47.3, "labelOffset": 35, "rowPadding": 3.4}},
            "stroke": {"field": "series", "type": "nominal", "scale": {"domain": ["After Treatment","Distribution Site 1","Distribution Site 2","Distribution Site 3"], "range": ["#000000","#ff0000","#00ff00","#0000ff"]},
              "legend": {"legendX": 412.5, "legendY": 47.3, "labelOffset": 35, "rowPadding": 3.4}},
            "shape": {"field": "series", "type": "nominal", "scale": {"domain": ["After Treatment","Distribution Site 1","Distribution Site 2","Distribution Site 3"], "range": ["M-3.9,0H3.9M1,0A1,1,0,1,1,-1,0A1,1,0,1,1,1,0Z","M-3.9,0H3.9M0,-0.9L1.05,0.9L-1.05,0.9Z","M-3.9,0H3.9M0,0.9L1.05,-0.9L-1.05,-0.9Z","M-3.9,0H3.9M-1,-0.66L0.66,1L1,0.66L-0.66,-1ZM-0.66,1L1,-0.66L0.66,-1L-1,0.66Z"]},
              "legend": {"legendX": 412.5, "legendY": 47.3, "labelOffset": 35, "rowPadding": 3.4}}
          }
        }
      ]
    },
    {
      "width": 754, "height": 764,
      "resolve": {"axis": {"x": "independent", "y": "independent"}, "scale": {"shape": "independent", "fill": "independent", "stroke": "independent"}},
      "layer": [
        {
          "data": {"name": "d"},
          "mark": {"type": "line", "strokeWidth": 1.6},
          "encoding": {
            "x": {"field": "day", "type": "quantitative", "scale": {"domain": [-130, 500], "range": [8, 751], "nice": false, "zero": false},
              "axis": {"orient": "bottom", "offset": 0, "values": [-100,0,100,200,300,400,500], "labelExpr": "datum.value + ''", "labelPadding": 19, "ticks": false, "tickSize": 0, "domain": true, "domainCap": "square", "title": "Time from Treatment, Days", "titleY": 89, "titleBaseline": "middle"}},
            "y": {"field": "value", "type": "quantitative", "scale": {"domain": [0, 5000], "range": [764, 11], "nice": false, "zero": false},
              "axis": {"orient": "left", "offset": -8, "values": [0,1000,2000,3000,4000,5000], "labelExpr": "datum.value + ''", "labelPadding": 15, "ticks": false, "tickSize": 0, "domain": true, "domainCap": "square", "title": "Iron Concentration , µg/L", "titleX": -111, "titleBaseline": "middle"}},
            "color": {"field": "series", "type": "nominal", "scale": {"domain": ["After Treatment","Distribution Site 1","Distribution Site 2","Distribution Site 3"], "range": ["#000000","#ff0000","#00ff00","#0000ff"]}, "legend": null}
          }
        },
        {
          "data": {"name": "d"},
          "mark": {"type": "point", "filled": true, "size": 289, "opacity": 1, "strokeWidth": 0},
          "encoding": {
            "x": {"field": "day", "type": "quantitative", "scale": {"domain": [-130, 500], "range": [8, 751], "nice": false, "zero": false},
              "axis": {"orient": "bottom", "offset": 0, "values": [-100,0,100,200,300,400,500], "labels": false, "domain": false, "tickSize": -17, "title": null}},
            "y": {"field": "value", "type": "quantitative", "scale": {"domain": [0, 5000], "range": [764, 11], "nice": false, "zero": false},
              "axis": {"orient": "left", "offset": -8, "values": [0,1000,2000,3000,4000,5000], "labels": false, "domain": false, "tickSize": -17, "title": null}},
            "color": {"field": "series", "type": "nominal", "scale": {"domain": ["After Treatment","Distribution Site 1","Distribution Site 2","Distribution Site 3"], "range": ["#000000","#ff0000","#00ff00","#0000ff"]}, "legend": null},
            "shape": {"field": "series", "type": "nominal", "scale": {"domain": ["After Treatment","Distribution Site 1","Distribution Site 2","Distribution Site 3"], "range": ["M1,0A1,1,0,1,1,-1,0A1,1,0,1,1,1,0Z","M0,-0.9L1.05,0.9L-1.05,0.9Z","M0,0.9L1.05,-0.9L-1.05,-0.9Z","M-1,-0.66L0.66,1L1,0.66L-0.66,-1ZM-0.66,1L1,-0.66L0.66,-1L-1,0.66Z"]}, "legend": null}
          }
        },
        {
          "data": {"values": [{"t": "SMCL"}]},
          "mark": {"type": "rule", "strokeDash": [12, 6], "color": "#333333", "strokeWidth": 1.5},
          "encoding": {
            "x": {"datum": -130, "type": "quantitative", "scale": {"domain": [-130, 500], "range": [8, 751], "nice": false, "zero": false},
              "axis": {"orient": "bottom", "offset": 0, "values": [-120,-100,-80,-60,-40,-20,0,20,40,60,80,100,120,140,160,180,200,220,240,260,280,300,320,340,360,380,400,420,440,460,480,500], "labels": false, "domain": false, "tickSize": -9, "title": null}},
            "x2": {"datum": 500},
            "y": {"datum": 300, "type": "quantitative", "scale": {"domain": [0, 5000], "range": [764, 11], "nice": false, "zero": false},
              "axis": {"orient": "left", "offset": -8, "values": [0,200,400,600,800,1000,1200,1400,1600,1800,2000,2200,2400,2600,2800,3000,3200,3400,3600,3800,4000,4200,4400,4600,4800,5000], "labels": false, "domain": false, "tickSize": -9, "title": null}}
          }
        },
        {
          "data": {"values": [{"t": "SMCL"}]},
          "mark": {"type": "text", "font": "Liberation Serif", "fontSize": 29, "align": "left", "baseline": "alphabetic", "color": "black"},
          "encoding": {
            "x": {"datum": 422, "type": "quantitative", "scale": {"domain": [-130, 500], "range": [8, 751], "nice": false, "zero": false},
              "axis": {"orient": "top", "offset": -11, "values": [-100,0,100,200,300,400,500], "labels": false, "domain": true, "domainCap": "square", "tickSize": -17, "title": null}},
            "y": {"datum": 398, "type": "quantitative", "scale": {"domain": [0, 5000], "range": [764, 11], "nice": false, "zero": false},
              "axis": {"orient": "right", "offset": -3, "values": [0,1000,2000,3000,4000,5000], "labels": false, "domain": true, "domainCap": "square", "tickSize": -17, "title": null}},
            "text": {"field": "t"}
          }
        },
        {
          "data": {"values": [{"t": "d"}]},
          "mark": {"type": "text", "font": "Lato", "fontWeight": "bold", "fontSize": 66, "align": "left", "baseline": "alphabetic", "color": "black"},
          "encoding": {
            "x": {"datum": -74, "type": "quantitative", "scale": {"domain": [-130, 500], "range": [8, 751], "nice": false, "zero": false},
              "axis": {"orient": "top", "offset": -11, "values": [-120,-100,-80,-60,-40,-20,0,20,40,60,80,100,120,140,160,180,200,220,240,260,280,300,320,340,360,380,400,420,440,460,480,500], "labels": false, "domain": false, "tickSize": -9, "title": null}},
            "y": {"datum": 4250, "type": "quantitative", "scale": {"domain": [0, 5000], "range": [764, 11], "nice": false, "zero": false},
              "axis": {"orient": "right", "offset": -3, "values": [0,200,400,600,800,1000,1200,1400,1600,1800,2000,2200,2400,2600,2800,3000,3200,3400,3600,3800,4000,4200,4400,4600,4800,5000], "labels": false, "domain": false, "tickSize": -9, "title": null}},
            "text": {"field": "t"}
          }
        },
        {
          "data": {"name": "d"},
          "mark": {"type": "point", "filled": true, "size": 0, "opacity": 1},
          "encoding": {
            "x": {"field": "day", "type": "quantitative", "scale": {"domain": [-130, 500], "range": [8, 751], "nice": false, "zero": false}, "axis": null},
            "y": {"field": "value", "type": "quantitative", "scale": {"domain": [0, 5000], "range": [764, 11], "nice": false, "zero": false}, "axis": null},
            "fill": {"field": "series", "type": "nominal", "scale": {"domain": ["After Treatment","Distribution Site 1","Distribution Site 2","Distribution Site 3"], "range": ["#000000","#ff0000","#00ff00","#0000ff"]},
              "legend": {"legendX": 417.5, "legendY": 63.2, "labelOffset": 34.5, "rowPadding": 3.4, "labelExpr": "datum.label === 'Distribution Site 2' ? 'Distribution Site 3' : datum.label"}},
            "stroke": {"field": "series", "type": "nominal", "scale": {"domain": ["After Treatment","Distribution Site 1","Distribution Site 2","Distribution Site 3"], "range": ["#000000","#ff0000","#00ff00","#0000ff"]},
              "legend": {"legendX": 417.5, "legendY": 63.2, "labelOffset": 34.5, "rowPadding": 3.4, "labelExpr": "datum.label === 'Distribution Site 2' ? 'Distribution Site 3' : datum.label"}},
            "shape": {"field": "series", "type": "nominal", "scale": {"domain": ["After Treatment","Distribution Site 1","Distribution Site 2","Distribution Site 3"], "range": ["M-3.9,0H3.9M1,0A1,1,0,1,1,-1,0A1,1,0,1,1,1,0Z","M-3.9,0H3.9M0,-0.9L1.05,0.9L-1.05,0.9Z","M-3.9,0H3.9M0,0.9L1.05,-0.9L-1.05,-0.9Z","M-3.9,0H3.9M-1,-0.66L0.66,1L1,0.66L-0.66,-1ZM-0.66,1L1,-0.66L0.66,-1L-1,0.66Z"]},
              "legend": {"legendX": 417.5, "legendY": 63.2, "labelOffset": 34.5, "rowPadding": 3.4, "labelExpr": "datum.label === 'Distribution Site 2' ? 'Distribution Site 3' : datum.label"}}
          }
        }
      ]
    }
  ]
}
